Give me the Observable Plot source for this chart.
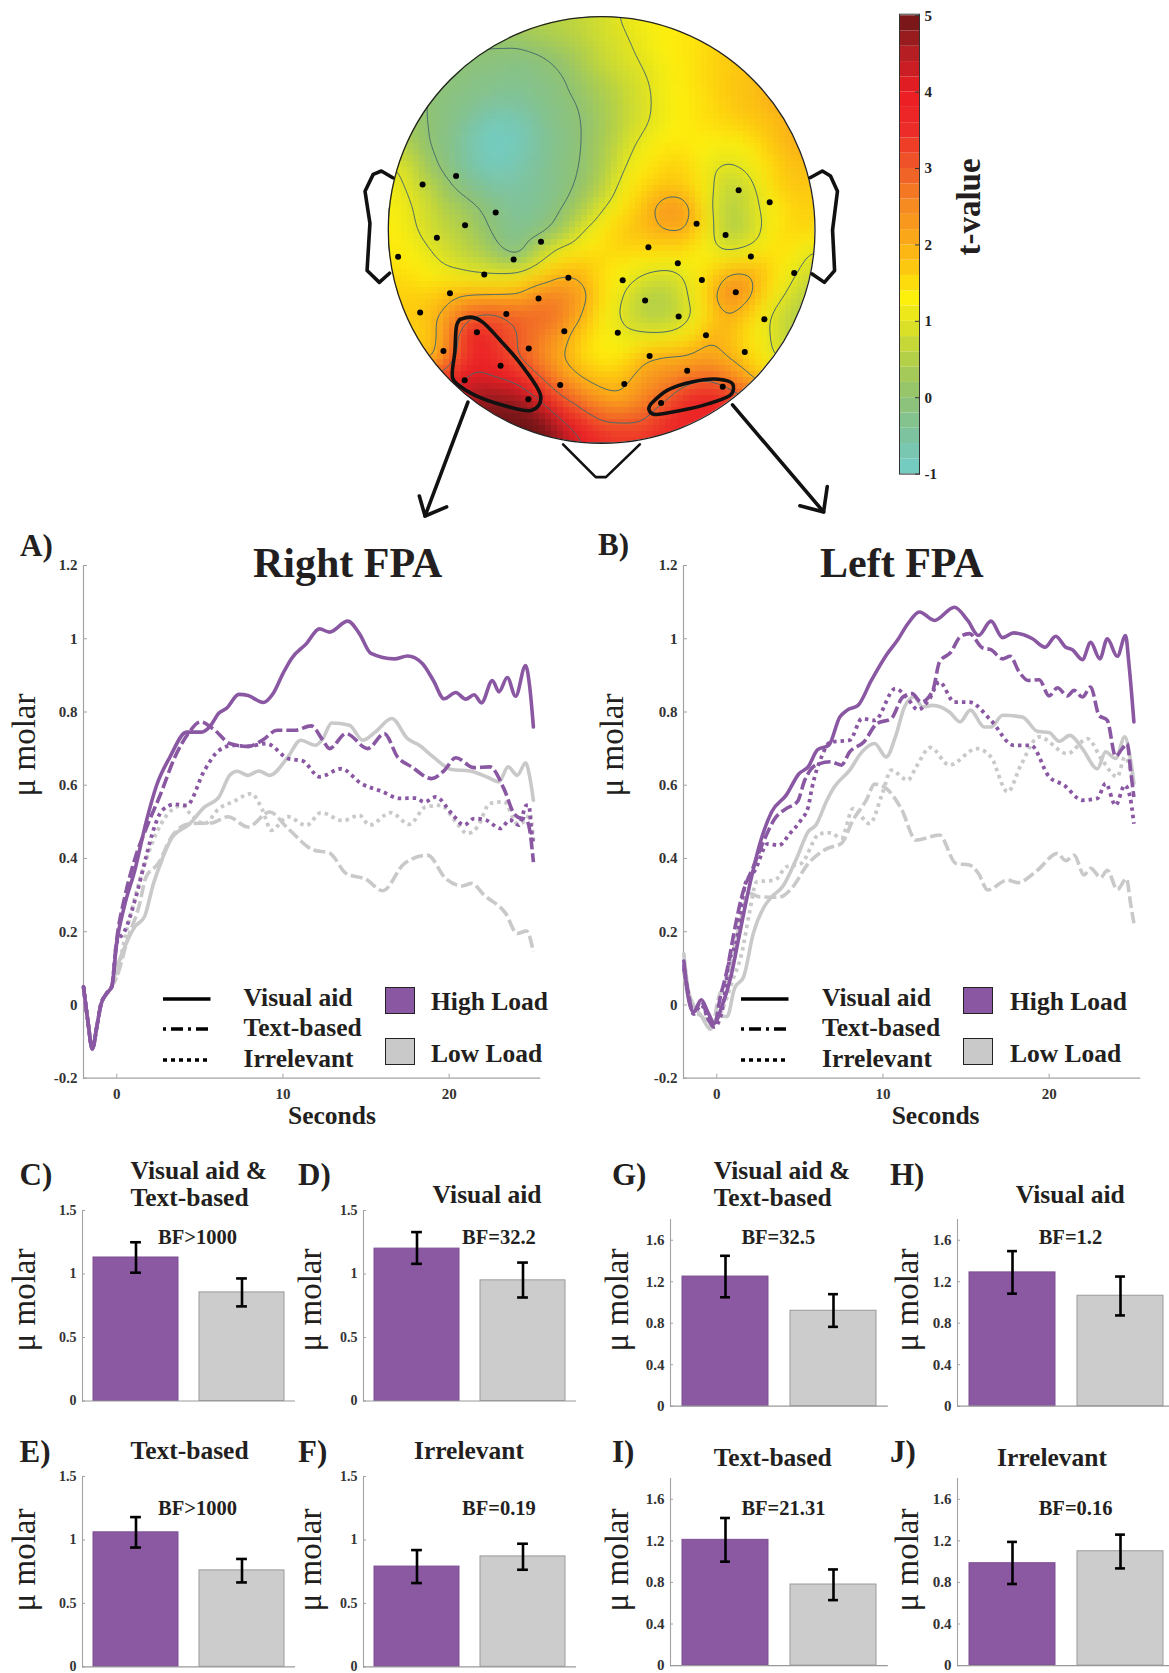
<!DOCTYPE html>
<html><head><meta charset="utf-8">
<script src="https://cdn.jsdelivr.net/npm/d3@7"></script>
<script src="https://cdn.jsdelivr.net/npm/@observablehq/plot@0.6"></script>
<style>
html,body{margin:0;padding:0;background:#fff;}
#page{position:relative;width:1169px;height:1673px;overflow:hidden;font-family:"Liberation Serif",serif;color:#231f20;}
#page svg{position:absolute;background:none;overflow:visible;}
.t{position:absolute;white-space:pre;line-height:1;font-weight:bold;}
</style></head><body><div id="page"></div>
<script>
// ---------- time courses: [seconds, micromolar] ----------
const onsetA = [[-2,.05],[-1.75,-.04],[-1.47,-.12],[-1.2,-.06],[-.96,0],[-.63,.03],[-.3,.05]];
const rightHighVisual = [[0,.17],[.46,.27],[1.1,.37],[1.77,.5],[2.4,.6],[3.2,.677],[4.2,.745],[5.05,.745],[5.6,.76],[6.15,.797],[6.6,.81],[7.35,.848],[7.9,.845],[8.8,.826],[9.4,.85],[10,.905],[10.5,.945],[11.4,.986],[12.2,1.027],[12.8,1.018],[13.9,1.048],[14.6,1.014],[15.3,.96],[16.7,.945],[17.5,.953],[18.4,.932],[19.05,.886],[19.7,.836],[20.4,.853],[21,.835],[21.5,.847],[21.95,.825],[22.6,.886],[23,.855],[23.5,.894],[24,.843],[24.6,.927],[24.85,.868],[25.07,.759]];
const rightHighText = [[0,.18],[.46,.29],[1.1,.4],[1.77,.482],[2.65,.577],[3.5,.677],[4.3,.741],[5.05,.773],[5.9,.75],[6.8,.714],[7.9,.706],[8.77,.723],[9.65,.75],[10.7,.75],[11.7,.762],[12.4,.723],[12.8,.7],[13.8,.741],[15.1,.7],[16.1,.741],[16.9,.677],[17.75,.65],[18.95,.618],[19.7,.64],[20.4,.675],[21.5,.648],[22.45,.65],[23.3,.59],[23.9,.523],[24.1,.514],[24.65,.505],[24.85,.477],[25.07,.39]];
const rightHighIrrelevant = [[0,.17],[.46,.2],[1.1,.286],[1.77,.405],[2.2,.477],[2.75,.532],[3.5,.548],[4.2,.545],[5.27,.64],[6.15,.695],[7,.709],[7.9,.706],[9,.714],[10.3,.673],[11.2,.666],[12.2,.623],[13.5,.645],[14.7,.605],[16,.582],[17,.564],[18,.565],[18.5,.554],[19.2,.568],[20.15,.523],[20.9,.491],[21.5,.509],[22.2,.505],[23.1,.482],[23.65,.505],[24.2,.491],[24.65,.545],[24.8,.545],[24.95,.477],[25.07,.44]];
const rightLowVisual = [[0,.1],[.57,.168],[1.1,.214],[1.66,.24],[2.2,.33],[2.75,.4],[3.3,.455],[4.4,.495],[5.27,.54],[6.15,.568],[6.8,.627],[7.25,.638],[7.9,.627],[8.55,.639],[9.2,.627],[10.3,.677],[11.07,.723],[11.95,.709],[12.4,.727],[12.93,.77],[14,.764],[14.8,.723],[15.55,.745],[16.55,.782],[17.5,.727],[18.2,.709],[19.05,.677],[20.15,.643],[21.25,.639],[22.35,.621],[23,.609],[23.55,.65],[24.1,.627],[24.6,.661],[24.85,.623],[25.07,.559]];
const rightLowText = [[0,.077],[.7,.186],[1.33,.268],[1.77,.35],[2.5,.386],[3.3,.459],[4.4,.495],[5.7,.497],[6.7,.514],[7.9,.486],[9.2,.527],[10.3,.482],[11.84,.423],[12.8,.415],[13.8,.359],[15,.343],[16,.312],[17.3,.386],[18.7,.409],[19.8,.345],[20.8,.325],[21.35,.332],[22.1,.3],[23.4,.25],[24.1,.195],[24.65,.202],[25.07,.145]];
const rightLowIrrelevant = [[0,.08],[.46,.177],[1.33,.332],[2.2,.45],[3.1,.523],[3.96,.545],[4.4,.523],[5.27,.495],[6.15,.536],[7,.555],[8.1,.577],[8.77,.532],[9.3,.477],[10.3,.514],[11.4,.49],[12.3,.525],[13.6,.503],[14.6,.518],[15.2,.491],[16.5,.525],[17.6,.493],[18.6,.541],[19.5,.545],[20.4,.5],[21.1,.468],[21.7,.486],[22.45,.55],[23.3,.555],[24.1,.495],[24.65,.505],[24.85,.523],[25.07,.45]];

const leftHighVisual = [[-1.98,.12],[-1.75,.03],[-1.4,-.02],[-.93,.014],[-.5,-.023],[-.15,-.05],[.3,-.005],[.85,.077],[1.3,.177],[1.96,.323],[2.6,.441],[3.3,.527],[4.18,.573],[4.96,.632],[5.5,.65],[6.07,.697],[6.74,.709],[7.4,.786],[7.85,.805],[8.5,.818],[9.3,.886],[10.2,.955],[10.86,.995],[11.5,1.041],[12.2,1.073],[13.1,1.05],[14.3,1.086],[15.1,1.05],[15.75,1.009],[16.5,1.048],[17.2,1.003],[17.86,1.016],[19,1],[19.75,.977],[20.4,1.007],[21,.977],[21.4,.97],[22,.943],[22.5,.99],[23.05,.945],[23.5,1],[24.1,.952],[24.6,1.009],[24.8,.932],[25.1,.773]];
const leftHighText = [[-1.98,.11],[-1.75,.04],[-1.4,-.02],[-.93,.01],[-.5,-.04],[-.15,-.06],[.18,.014],[.62,.095],[1.07,.205],[1.5,.295],[2.2,.377],[2.85,.45],[3.5,.509],[4.18,.536],[4.85,.555],[5.3,.614],[5.96,.655],[6.85,.664],[7.5,.655],[8,.691],[8.85,.718],[9.63,.768],[10.5,.782],[11.2,.841],[11.75,.85],[12.3,.827],[13,.859],[13.4,.936],[14.1,.964],[14.64,1.005],[15.2,1.014],[16,.975],[16.5,.97],[17.2,.945],[17.65,.952],[18.2,.909],[18.75,.886],[19.4,.888],[20,.844],[20.5,.866],[21.1,.844],[21.5,.859],[22,.841],[22.5,.868],[23,.791],[23.5,.777],[24,.679],[24.4,.7],[24.7,.714],[24.9,.641],[25.1,.568]];
const leftHighIrrelevant = [[-1.98,.1],[-1.75,.04],[-1.4,-.025],[-.93,0],[-.5,-.04],[-.15,-.06],[.3,-.02],[.73,.114],[1.2,.177],[1.73,.332],[2.3,.368],[3.07,.44],[3.74,.436],[4.4,.468],[5.07,.505],[5.5,.54],[5.74,.595],[6.3,.677],[6.85,.718],[8,.723],[8.74,.782],[9.5,.777],[10.75,.864],[11.5,.836],[12.1,.806],[12.75,.832],[13.4,.882],[14.3,.827],[15.2,.827],[16.5,.777],[17.86,.709],[18.9,.709],[20,.623],[20.9,.6],[22,.559],[22.9,.564],[23.4,.605],[24,.545],[24.55,.6],[24.87,.568],[25.1,.495]];
const leftLowVisual = [[-1.98,.14],[-1.75,.05],[-1.4,0],[-.93,-.03],[-.38,-.066],[.07,-.03],[.62,-.032],[1.07,.045],[1.62,.077],[2.2,.195],[2.85,.268],[3.3,.295],[3.96,.323],[4.85,.405],[5.5,.473],[5.96,.491],[6.63,.559],[7.07,.595],[8,.641],[8.74,.691],[9.5,.714],[10.2,.677],[10.75,.732],[11.3,.814],[11.86,.841],[12.4,.814],[13,.818],[14,.8],[14.64,.773],[15.26,.805],[16.1,.759],[16.5,.759],[17.2,.791],[18.4,.786],[19.3,.747],[20,.744],[20.6,.72],[21.25,.736],[22,.7],[22.9,.645],[23.4,.691],[24,.673],[24.55,.732],[24.87,.677],[25.1,.605]];
const leftLowText = [[-1.98,.1],[-1.75,.03],[-1.4,-.01],[-.93,-.03],[-.27,-.06],[.07,.014],[.62,.068],[1.3,.205],[1.96,.305],[2.6,.295],[3.74,.294],[4.5,.318],[5.5,.386],[6.63,.427],[7.5,.441],[8.2,.505],[9,.559],[9.5,.603],[10.2,.591],[11.1,.536],[12,.45],[13.4,.464],[14.4,.386],[15.2,.382],[15.75,.359],[16.3,.314],[17.5,.341],[18.1,.334],[19.3,.368],[20.5,.414],[21,.394],[21.5,.409],[22.1,.355],[22.5,.373],[23.1,.348],[23.5,.368],[24.1,.315],[24.65,.345],[24.9,.277],[25.1,.223]];
const leftLowIrrelevant = [[-1.98,.09],[-1.75,.03],[-1.4,-.01],[-.93,-.03],[-.27,-.05],[.4,-.005],[.96,.068],[1.5,.14],[1.96,.25],[2.4,.336],[3.5,.341],[4.18,.377],[5.07,.386],[6.2,.468],[6.85,.47],[7.5,.455],[8.2,.536],[9.2,.495],[9.96,.577],[10.5,.641],[11.5,.614],[12,.65],[12.86,.703],[14,.655],[15.64,.7],[16.5,.677],[17.5,.582],[18.3,.655],[19.4,.732],[21.1,.686],[22.3,.727],[23.2,.668],[24.1,.623],[24.55,.677],[25.1,.6]];

// ---------- bar panels ----------
const barPanels   = ["C","D","E","F","G","H","I","J"];
const barTitles   = ["Visual aid &\nText-based","Visual aid","Text-based","Irrelevant","Visual aid &\nText-based","Visual aid","Text-based","Irrelevant"];
const bayesText   = ["BF>1000","BF=32.2","BF>1000","BF=0.19","BF=32.5","BF=1.2","BF=21.31","BF=0.16"];
const loads       = ["High Load","Low Load"];
const highMean    = [1.13,1.2,1.06,.79,1.25,1.29,1.21,.985];
const highLower   = [1.01,1.08,.94,.66,1.05,1.085,1.0,.785];
const highUpper   = [1.25,1.33,1.18,.92,1.45,1.495,1.42,1.19];
const lowMean     = [.855,.95,.76,.87,.92,1.065,.78,1.1];
const lowLower    = [.745,.815,.665,.765,.765,.875,.63,.935];
const lowUpper    = [.965,1.09,.85,.97,1.08,1.25,.925,1.26];
const rightTicks  = [0,.5,1,1.5];
const leftTicks   = [0,.4,.8,1.2,1.6];
const lineTicksY  = [-.2,0,.2,.4,.6,.8,1,1.2];
const lineTicksX  = [0,10,20];

// ---------- topographic map: t-values on a regular scalp grid ----------
const scalpX = [117,169,221,274,326,378,431,483,535,587,640,692,744,796,848,901,953,1005,1058,1110,1162];
const scalpY = [48,111,174,238,301,364,427,490,554,617,680,743,806,870,933,996,1059,1123,1186,1249,1312];
const tGrid = [
[.3,.3,.3,.3,.35,.4,.5,.55,.6,.7,.85,1.05,1.2,1.3,1.4,1.45,1.5,1.5,1.5,1.5,1.5],
[.1,.1,.1,.1,.1,.08,.15,.3,.45,.6,.8,.95,1.15,1.3,1.4,1.5,1.6,1.7,1.7,1.7,1.7],
[0,0,0,0,-.05,-.1,-.2,-.1,.08,.4,.7,.9,1.05,1.25,1.4,1.55,1.7,1.75,1.8,1.8,1.8],
[.1,.05,0,-.1,-.2,-.25,-.3,-.2,-.1,.2,.5,.75,.95,1.2,1.4,1.55,1.7,1.8,1.9,1.9,1.9],
[.3,.2,-.05,-.2,-.3,-.45,-.45,-.3,-.15,.03,.35,.65,.9,1.2,1.35,1.5,1.7,1.8,2,2.1,2.1],
[.6,.2,-.05,-.25,-.6,-.85,-.75,-.45,-.2,-.03,.3,.65,.95,1.2,1.35,1.5,1.6,1.7,1.8,2,2],
[.7,.35,-.05,-.3,-.75,-.95,-.85,-.5,-.25,-.03,.35,.8,1.15,1.35,1.4,1.3,1.2,1.4,1.7,2,2],
[1.1,.8,.1,-.25,-.65,-.85,-.7,-.45,-.2,0,.4,.95,1.35,1.6,1.6,1.1,.95,1.1,1.6,1.8,1.8],
[1.2,.95,.55,0,-.3,-.55,-.55,-.4,-.2,.1,.55,1.2,1.6,1.75,1.7,1.15,.6,.85,1.5,1.75,1.7],
[1.3,1.05,.75,.4,.1,-.2,-.45,-.35,-.08,.4,.95,1.45,1.8,2.4,2.3,1.1,.45,.85,1.25,1.6,1.6],
[1.4,1.1,.8,.6,.3,-.1,-.35,-.25,.2,.95,1.35,1.7,1.85,2.05,2.05,1.2,.4,.7,1.3,1.6,1.5],
[1.4,1.25,1,.75,.5,.1,-.35,.5,1.2,1.4,1.5,1.55,1.5,1.5,1.5,1.2,.95,1.1,1.45,1.3,.9],
[1.55,1.4,1.2,1.05,.93,.9,.95,1.4,1.9,1.9,1.45,1.2,1.02,.9,1.1,1.6,2,2,1.5,1.05,.7],
[1.6,1.6,1.6,1.85,1.95,1.95,2,2.5,2.6,2.3,1.5,1,.55,.5,.95,1.7,2.7,2.1,1.3,.8,.5],
[1.7,1.7,1.8,2.4,2.95,3.1,2.9,2.9,2.75,2.05,1.3,.9,.5,.45,.8,1.5,2,1.6,.9,.55,.35],
[1.7,1.6,1.7,2.7,4.1,3.4,3,2.7,2.3,1.6,1.3,1.05,1.1,1.1,1.3,1.95,1.8,1.4,.95,.5,.35],
[1.8,1.8,1.8,2.9,3.7,3.5,3,2.6,2.05,1.55,1.3,1.4,1.95,2.1,2.05,2.2,1.95,1.55,1,.9,.8],
[3,3,3.3,3.7,4.3,4.05,3.85,3.1,2.5,2.05,1.75,1.85,2.3,2.5,2.8,2.95,2.6,2.1,1.5,1.3,1.2],
[3.5,3.8,4,4,4.7,4.8,4.7,4.15,3.2,2.7,2.3,2.1,2.6,3,3.6,3.9,3.5,3,2.2,1.8,1.5],
[5,5,5,5,5,5,5,5,4.2,3.5,3,3,3.05,3.5,3.7,3.7,3.6,3.2,2.5,2,1.8],
[5,5,5,5,5,5,5,5,4.8,4.1,3.7,3.5,3.5,3.6,3.7,3.7,3.6,3.2,2.5,2,1.8]
];
const electrodes = [[283,520],[201,545],[380,628],[305,666],[236,703],[491,715],[424,767],[141,759],[352,812],[268,867],[195,924],[406,929],[558,821],[485,883],[334,983],[548,980],[461,1031],[252,1038],[392,1082],[304,1125],[460,1181],[538,1139],[695,1136],[757,1053],[849,1097],[936,1144],[785,1192],[990,1041],[895,992],[679,984],[828,936],[746,889],[691,829],[826,778],[885,828],[968,864],[1038,944],[1111,807],[1005,758],[754,731],[872,661],[943,695],[975,562],[1051,598]];
const contourLevels = [0,1,2,3,4];
const colorTicks = [-1,0,1,2,3,4,5];
const colorDomain = [-1,-.5,0,.5,1,1.3,1.6,2,2.5,3,3.5,4,4.5,5];
const colorRange = ["#72cdc8","#7ec3a0","#8fc273","#b3d048","#e3e41f","#fdf00d","#fdd20e","#fbae17","#f68b22","#f05a28","#ec2c28","#ec1c24","#b51f24","#6d1416"];
const regionRight = [[292,945],[320,938],[345,950],[390,1005],[440,1075],[490,1170],[485,1200],[465,1215],[400,1200],[330,1170],[290,1140],[275,1120],[280,1040],[285,960],[292,945]];
const regionLeft = [[760,1195],[800,1155],[860,1130],[925,1122],[960,1135],[958,1165],[900,1195],[830,1215],[765,1225],[755,1210],[760,1195]];
const earLeft = [[128,525],[100,505],[80,515],[60,565],[72,660],[65,800],[95,835],[120,808]];
const earRight = [[1150,525],[1180,505],[1200,520],[1217,565],[1205,680],[1210,800],[1185,835],[1155,810]];
const nose = [[545,1315],[625,1412],[650,1412],[733,1315]];
const arrowA = [[312,1190],[207,1527]], arrowAHead = [[193,1468],[207,1527],[260,1500]];
const arrowB = [[960,1198],[1183,1515]], arrowBHead = [[1125,1497],[1183,1515],[1192,1440]];

// ---------- helpers ----------
const page = document.getElementById("page");
const SERIF = '"Liberation Serif", serif';
const PURPLE = "#8a58a3", GREY = "#c9c9c9", AXIS = "#a3a3a3", INK = "#333";
function text(str, x, baseline, size) {
  const d = document.createElement("div");
  d.className = "t"; d.textContent = str;
  d.style.fontSize = size + "px";
  d.style.left = x + "px";
  d.style.top = (baseline - size * .78) + "px";
  page.appendChild(d);
  return d;
}
function vtext(str, xBase, yCenter, size, weight) {
  const d = document.createElement("div");
  d.className = "t"; d.textContent = str;
  d.style.fontSize = size + "px";
  d.style.fontWeight = weight;
  d.style.left = xBase + "px";
  d.style.top = yCenter + "px";
  d.style.transform = "rotate(-90deg) translate(-50%,0) translateY(-.78em)";
  d.style.transformOrigin = "0 0";
  page.appendChild(d);
}
function place(svg, left, top) {
  svg.style.left = left + "px"; svg.style.top = top + "px";
  page.appendChild(svg);
}
const fmt = d => String(d);

// ---------- map ----------
const cells = [];
scalpY.forEach((y, j) => scalpX.forEach((x, i) => cells.push({x, y, t: tGrid[j][i]})));
const MAPL = 387.8, MAPT = 16.2, MAPS = 426.7;
const colorOpt = {type: "linear", domain: colorDomain, range: colorRange, clamp: true};
const map = Plot.plot({
  width: MAPS, height: MAPS, margin: 0,
  x: {domain: [117,1162], axis: null},
  y: {domain: [48,1312], reverse: false, range: [0,MAPS], axis: null},
  color: colorOpt,
  style: {background: "none", clipPath: `circle(${MAPS/2}px at 50% 50%)`},
  marks: [
    Plot.raster(cells, {x:"x", y:"y", fill:"t", interpolate:"barycentric", pixelSize:6, blur:1, imageRendering:"pixelated"}),
    Plot.contour(cells, {x:"x", y:"y", value:"t", interpolate:"barycentric", thresholds:contourLevels, pixelSize:2, blur:3, stroke:"#47696a", strokeWidth:1, fill:"none"})
  ]
});
map.style.overflow = "hidden";
place(map, MAPL, MAPT);

const outlineStyle = {stroke:"#111", strokeWidth:3.6, strokeLinejoin:"round", strokeLinecap:"round"};
const overlay = Plot.plot({
  width: 1169, height: 530, margin: 0,
  x: {domain:[117,1162], range:[MAPL,MAPL+MAPS], axis:null},
  y: {domain:[48,1312], range:[MAPT,MAPT+MAPS], axis:null},
  style: {background:"none"},
  marks: [
    Plot.dot([[639.5,680]], {x:d=>d[0], y:d=>d[1], r:MAPS/2, stroke:"#222", strokeWidth:1.3, fill:"none"}),
    Plot.line(regionRight, {x:d=>d[0], y:d=>d[1], ...outlineStyle, curve:"catmull-rom"}),
    Plot.line(regionLeft, {x:d=>d[0], y:d=>d[1], ...outlineStyle, curve:"catmull-rom"}),
    Plot.line(earLeft, {x:d=>d[0], y:d=>d[1], ...outlineStyle}),
    Plot.line(earRight, {x:d=>d[0], y:d=>d[1], ...outlineStyle}),
    Plot.line(nose, {x:d=>d[0], y:d=>d[1], ...outlineStyle, strokeWidth:2.6}),
    Plot.line(arrowA, {x:d=>d[0], y:d=>d[1], ...outlineStyle}),
    Plot.line(arrowAHead, {x:d=>d[0], y:d=>d[1], ...outlineStyle}),
    Plot.line(arrowB, {x:d=>d[0], y:d=>d[1], ...outlineStyle}),
    Plot.line(arrowBHead, {x:d=>d[0], y:d=>d[1], ...outlineStyle}),
    Plot.dot(electrodes, {x:d=>d[0], y:d=>d[1], r:3, fill:"#000"})
  ]
});
place(overlay, 0, 0);

// ---------- colour bar ----------
const colorSteps = d3.range(-1, 5, 0.2);
const bar = Plot.plot({
  width: 60, height: 500, marginLeft:1, marginRight:39, marginTop:13.7, marginBottom:26.4,
  x: {domain:[0,1], axis:null},
  y: {domain:[-1,5.02]},
  color: colorOpt,
  style: {background:"none", fontFamily:SERIF, fontWeight:"bold", fontSize:"15px", color:"#222"},
  marks: [
    Plot.rect(colorSteps, {x1:0, x2:1, y1:d=>d, y2:d=>d+.2, fill:d=>d+.1}),
    Plot.frame({stroke:"#333", strokeWidth:1}),
    Plot.axisY({anchor:"right", ticks:colorTicks, tickFormat:fmt, tickSize:-5, tickPadding:10, stroke:"#333", label:null})
  ]
});
place(bar, 898, 0);
vtext("t-value", 979, 207, 33, "bold");

// ---------- line panels ----------
function linePanel(L, series, onset) {
  const T = 565, B = 1077.7, pps = 16.62, ML = 40, MV = 30;
  const [hv, ht, hi, lv, lt, li] = series;
  const withOnset = s => onset ? onset.concat(s) : s;
  const SOLID = {strokeWidth:3.6}, DASH = {strokeWidth:3.6, strokeDasharray:"12,4", strokeLinecap:"butt"}, DOT = {strokeWidth:3.8, strokeDasharray:"3.5,4", strokeLinecap:"butt"};
  const ln = (s, stroke, st) => Plot.line(withOnset(s), {x:d=>d[0], y:d=>d[1], stroke, curve:"monotone-x", ...st});
  const p = Plot.plot({
    width: ML + 27.45*pps, height: B - T + 2*MV,
    marginLeft: ML, marginRight: 0, marginTop: MV, marginBottom: MV,
    x: {domain:[-2,25.45]},
    y: {domain:[-.2,1.2]},
    style: {background:"none", fontFamily:SERIF, fontWeight:"bold", fontSize:"15px", color:INK},
    marks: [
      Plot.frame({anchor:"left", stroke:AXIS, strokeWidth:1.2}),
      Plot.frame({anchor:"bottom", stroke:AXIS, strokeWidth:1.2}),
      Plot.axisY({ticks:lineTicksY, tickFormat:fmt, tickSize:-4, tickPadding:10, stroke:AXIS, label:null}),
      Plot.axisX({ticks:lineTicksX, tickFormat:fmt, tickSize:-4, tickPadding:14, stroke:AXIS, label:null}),
      ln(lt, GREY, DASH), ln(li, GREY, DOT), ln(lv, GREY, SOLID),
      ln(ht, PURPLE, DASH), ln(hi, PURPLE, DOT), ln(hv, PURPLE, SOLID)
    ]
  });
  place(p, L-ML, T-MV);
}
linePanel(83.3, [rightHighVisual,rightHighText,rightHighIrrelevant,rightLowVisual,rightLowText,rightLowIrrelevant], onsetA);
linePanel(683.4, [leftHighVisual,leftHighText,leftHighIrrelevant,leftLowVisual,leftLowText,leftLowIrrelevant], null);

text("Right FPA", 253, 575, 42);
text("Left FPA", 820, 575, 42);
text("A)", 20, 554, 31);
text("B)", 598, 553, 31);
text("Seconds", 288, 1123, 25.5);
text("Seconds", 891.7, 1123, 25.5);
vtext("\u03bc molar", 34, 745, 33, "normal");
vtext("\u03bc molar", 622, 745, 33, "normal");

// legends
const legendRows = [["Visual aid","none",999],["Text-based","3,5,12,5",1029],["Irrelevant","4,4",1060]];
function legend(lx0, ltx, bx, btx) {
  const svgNS = "http://www.w3.org/2000/svg";
  const s = document.createElementNS(svgNS, "svg");
  s.setAttribute("width", 60); s.setAttribute("height", 90);
  legendRows.forEach(([label, dash, y]) => {
    const l = document.createElementNS(svgNS, "line");
    l.setAttribute("x1", 0); l.setAttribute("x2", 47.5);
    l.setAttribute("y1", y-985); l.setAttribute("y2", y-985);
    l.setAttribute("stroke", "#000"); l.setAttribute("stroke-width", 3.6);
    if (dash !== "none") l.setAttribute("stroke-dasharray", dash);
    s.appendChild(l);
    text(label, ltx, y + 5.5, 25.5);
  });
  place(s, lx0, 985);
  [[PURPLE,987],[GREY,1038]].forEach(([c,y]) => {
    const d = document.createElement("div");
    d.style.cssText = `position:absolute;left:${bx}px;top:${y}px;width:28px;height:25px;background:${c};border:1.6px solid #222;`;
    page.appendChild(d);
  });
  text("High Load", btx, 1009, 25.5);
  text("Low Load", btx, 1061, 25.5);
}
legend(162.5, 243.6, 384.7, 431);
legend(741.4, 822, 963, 1010);

// ---------- bar panels ----------
const barLayout = {
  C:{ax:81.6, w:213, t:1210.4, b:1400.9, max:1.5, ticks:rightTicks, lx:19.6, ly:1183.5, tx:130.5, ty:[1178,1205], bx:158, by:1243, mx:34, my:1300},
  D:{ax:362.7,w:213, t:1210.4, b:1400.9, max:1.5, ticks:rightTicks, lx:298, ly:1183.5, tx:432.6, ty:[1202], bx:462, by:1243, mx:320, my:1300},
  E:{ax:81.6, w:213, t:1475.7, b:1666, max:1.5, ticks:rightTicks, lx:19.6, ly:1460, tx:130.5, ty:[1458], bx:158, by:1514, mx:34, my:1560},
  F:{ax:362.7,w:213, t:1475.7, b:1666, max:1.5, ticks:rightTicks, lx:298, ly:1460, tx:414, ty:[1458], bx:462, by:1514, mx:320, my:1560},
  G:{ax:669.8,w:217.8, t:1218.9, b:1405.6, max:1.8, ticks:leftTicks, lx:612, ly:1183, tx:713.7, ty:[1178,1205], bx:741.4, by:1243, mx:627, my:1300},
  H:{ax:957,  w:217.8, t:1218.9, b:1405.6, max:1.8, ticks:leftTicks, lx:890, ly:1183, tx:1015.8, ty:[1202], bx:1038.7, by:1243, mx:917, my:1300},
  I:{ax:669.8,w:217.8, t:1478.4, b:1665.5, max:1.8, ticks:leftTicks, lx:612, ly:1460, tx:713.7, ty:[1464.8], bx:741.4, by:1514, mx:627, my:1560},
  J:{ax:957,  w:217.8, t:1478.4, b:1665.5, max:1.8, ticks:leftTicks, lx:890, ly:1460, tx:997, ty:[1464.8], bx:1038.7, by:1514, mx:917, my:1560}
};
barPanels.forEach((id, i) => {
  const g = barLayout[id];
  const rows = [
    {load:loads[0], mean:highMean[i], lo:highLower[i], hi:highUpper[i]},
    {load:loads[1], mean:lowMean[i], lo:lowLower[i], hi:lowUpper[i]}
  ];
  const ML = 40, MT = 8, MB = 7, H = g.b - g.t;
  const inset = (.4*g.w - 11)/2;
  const p = Plot.plot({
    width: ML + g.w, height: H + MT + MB,
    marginLeft: ML, marginRight: 0, marginTop: MT, marginBottom: MB,
    x: {type:"band", domain:loads, paddingInner:.2, paddingOuter:.1, axis:null},
    y: {domain:[0,g.max]},
    style: {background:"none", fontFamily:SERIF, fontWeight:"bold", fontSize:g.max===1.5?"14px":"15px", color:INK},
    marks: [
      Plot.barY(rows, {x:"load", y:"mean", fill:d=>d.load===loads[0]?"#8b59a1":"#cccccc", stroke:d=>d.load===loads[0]?"#7d4f94":"#9a9a9a", strokeWidth:1}),
      Plot.frame({anchor:"left", stroke:AXIS, strokeWidth:1.1}),
      Plot.axisY({ticks:g.ticks, tickFormat:fmt, tickSize:-3, tickPadding:9, stroke:AXIS, label:null}),
      Plot.ruleY([0], {stroke:"#999", strokeWidth:1.2}),
      Plot.ruleX(rows, {x:"load", y1:"lo", y2:"hi", stroke:"#000", strokeWidth:2.6}),
      Plot.tickY(rows, {x:"load", y:"lo", stroke:"#000", strokeWidth:2.6, insetLeft:inset, insetRight:inset}),
      Plot.tickY(rows, {x:"load", y:"hi", stroke:"#000", strokeWidth:2.6, insetLeft:inset, insetRight:inset})
    ]
  });
  place(p, g.ax - ML, g.t - MT);
  text(id + ")", g.lx, g.ly, 31);
  barTitles[i].split("\n").forEach((s, k) => text(s, g.tx, g.ty[k], 25.5));
  text(bayesText[i], g.bx, g.by, 20.5);
  vtext("\u03bc molar", g.mx, g.my, 33, "normal");
});
</script></body></html>
